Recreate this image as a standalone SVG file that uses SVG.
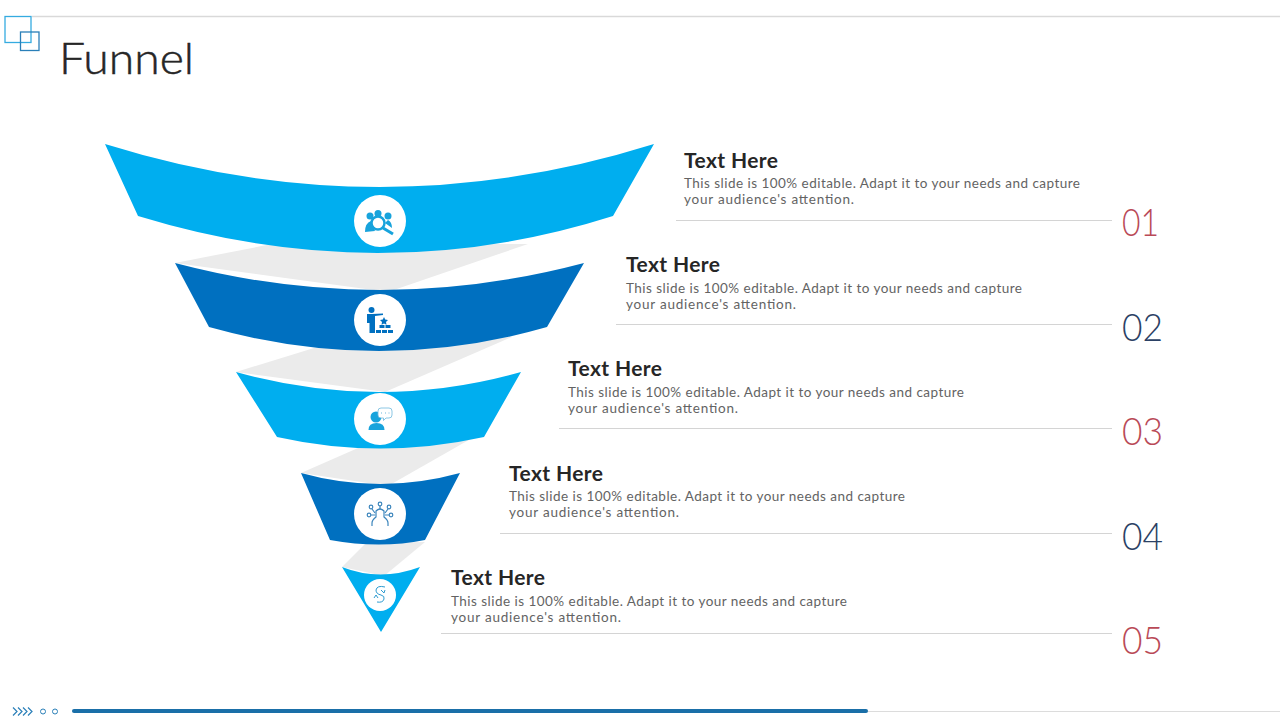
<svg xmlns="http://www.w3.org/2000/svg" width="1280" height="720" viewBox="0 0 1280 720">
<style>
.t{font-family:"Lato","Noto Sans",sans-serif}
.h{font-family:"Lato","Noto Sans",sans-serif;font-weight:700;font-size:21px;fill:#262626}
.b{font-family:"Lato","Noto Sans",sans-serif;font-size:13.5px;fill:#636363}
.n{font-family:"Lato","Noto Sans",sans-serif;font-weight:300;font-size:37px}
.r{fill:#b94a57}.v{fill:#2b4165}
.l{stroke:#d4d4d4;stroke-width:1.2;fill:none}
.g{fill:#ebebeb}.lb{fill:#00aeef}.db{fill:#0070c0}
.c{fill:#fff}.il{fill:#17a3dc}.id{fill:#0070c0}
.s{fill:none;stroke:#3d86bd;stroke-width:1.2}
</style>
<rect width="1280" height="720" fill="#fff"/>
<g id="header">
<line x1="32" y1="16.500" x2="1280" y2="16.500" stroke="#d9d9d9" stroke-width="1.600"/>
<rect x="5" y="16.500" width="26" height="26" fill="none" stroke="#35abe0" stroke-width="1.300"/>
<rect x="20.500" y="32" width="18.500" height="18.500" fill="none" stroke="#2a7fb8" stroke-width="1.300"/>
<text x="59" y="74" class="t" font-size="44" font-weight="300" fill="#262626" stroke="#262626" stroke-width=".5" textLength="135" lengthAdjust="spacingAndGlyphs">Funnel</text>
</g>
<g id="connectors">
<path class="g" d="M175 263L272 244L528 244L388 292Z"/>
<path class="g" d="M236 372L314 348L512 337L385 392Z"/>
<path class="g" d="M301 473L358 448L474 437L388 486Z"/>
<path class="g" d="M342 567L366 543L425 542L384 576Z"/>
<path class="l" d="M676 220.500H1112M616 324.500H1112M559 428.500H1112M500 533.500H1112M441 633.500H1112"/>
</g>
<g id="node-1">
<path class="lb" d="M105 144Q380 230 654 144L613 216Q380 290 138 216Z"/>
<circle class="c" cx="380" cy="221" r="26"/>
<g class="il"><circle cx="378" cy="213.500" r="3.500"/><circle cx="370" cy="216" r="3.500"/><circle cx="388" cy="216" r="3.500"/>
<path d="M365 232q0-9 6-11l4 10zM392 228q0-6-4-8l-3 3z"/></g>
<circle cx="378" cy="223" r="6.500" fill="#fff" stroke="#17a3dc" stroke-width="2.500"/>
<path d="M383 228L393 234" stroke="#17a3dc" stroke-width="3"/>
</g>
<g id="text-1"><text x="684" y="168" class="h" textLength="94">Text Here</text>
<text x="684" y="188" class="b" textLength="396">This slide is 100% editable. Adapt it to your needs and capture</text>
<text x="684" y="204" class="b" textLength="170">your audience's attention.</text>
<text x="1122" y="236" class="n r" textLength="37" lengthAdjust="spacingAndGlyphs">01</text></g>
<g id="node-2">
<path class="db" d="M175 263Q380 317 584 263L547 327Q380 375 209 327Z"/>
<circle class="c" cx="380" cy="320" r="26"/>
<g class="id"><circle cx="371.500" cy="310" r="3"/>
<path d="M367 314h5l11 -.5v1.500l-8 1v17h-5.500v-10h-2.500z"/>
<path d="M384 317l1.200 2.500 2.800.4-2 2 .5 2.800-2.500-1.300-2.500 1.300.5-2.800-2-2 2.800-.4z"/>
<rect x="379.500" y="325" width="5" height="3"/><rect x="385.500" y="325" width="5" height="3"/><rect x="376" y="330" width="5" height="3"/><rect x="382" y="330" width="5" height="3"/><rect x="388" y="330" width="5" height="3"/></g>
</g>
<g id="text-2"><text x="626" y="272" class="h" textLength="94">Text Here</text>
<text x="626" y="293" class="b" textLength="396">This slide is 100% editable. Adapt it to your needs and capture</text>
<text x="626" y="309" class="b" textLength="170">your audience's attention.</text>
<text x="1122" y="341" class="n v" textLength="41" lengthAdjust="spacingAndGlyphs">02</text></g>
<g id="node-3">
<path class="lb" d="M236 372Q380 412 521 372L484 437Q380 460 277 437Z"/>
<circle class="c" cx="380" cy="419" r="26"/>
<g class="il"><circle cx="376" cy="417" r="5.500"/><path d="M368.500 430q0-7 8-7t8 7z"/></g>
<path d="M381 408h8q3 0 3 3v4q0 3-3 3h-3l-2.500 2.500v-2.500h-2.500q-3 0-3-3v-4q0-3 3-3z" fill="#fff" stroke="#6fb9dd" stroke-width=".8"/>
<path d="M381 413h1M385 413h1M388.500 413h1" stroke="#6fb9dd" stroke-width="1"/>
</g>
<g id="text-3"><text x="568" y="376" class="h" textLength="94">Text Here</text>
<text x="568" y="397" class="b" textLength="396">This slide is 100% editable. Adapt it to your needs and capture</text>
<text x="568" y="413" class="b" textLength="170">your audience's attention.</text>
<text x="1122" y="445" class="n r" textLength="41" lengthAdjust="spacingAndGlyphs">03</text></g>
<g id="node-4">
<path class="db" d="M301 473Q380 495 460 473L425 540Q380 549 330 540Z"/>
<circle class="c" cx="380" cy="514" r="26"/>
<g class="s"><path d="M372 526v-3q0-3 4-6v-6q4-4 8 0v6q4 3 4 6v3"/><circle cx="380" cy="504" r="1.800"/><circle cx="371" cy="507" r="1.800"/><circle cx="389" cy="507" r="1.800"/><circle cx="369" cy="515" r="1.800"/><circle cx="391" cy="515" r="1.800"/><path d="M380 506v3M372 509l3 4M388 509l-3 4M371 515h4M389 515h-4"/></g>
</g>
<g id="text-4"><text x="509" y="481" class="h" textLength="94">Text Here</text>
<text x="509" y="501" class="b" textLength="396">This slide is 100% editable. Adapt it to your needs and capture</text>
<text x="509" y="517" class="b" textLength="170">your audience's attention.</text>
<text x="1122" y="550" class="n v" textLength="41" lengthAdjust="spacingAndGlyphs">04</text></g>
<g id="node-5">
<path class="lb" d="M342 567Q380 582 420 567L381 632Z"/>
<circle class="c" cx="380" cy="595" r="16"/>
<path d="M385 587q-8-2-9 3 0 4 5 5 4 1 3 4-1 4-7 3M374 598l2-3 2 3M381 590l3 3 1-3" fill="none" stroke="#2d9bd0" stroke-width="1"/>
</g>
<g id="text-5"><text x="451" y="585" class="h" textLength="94">Text Here</text>
<text x="451" y="606" class="b" textLength="396">This slide is 100% editable. Adapt it to your needs and capture</text>
<text x="451" y="622" class="b" textLength="170">your audience's attention.</text>
<text x="1122" y="654" class="n r" textLength="41" lengthAdjust="spacingAndGlyphs">05</text></g>
<g id="footer">
<line x1="72" y1="711.500" x2="1280" y2="711.500" stroke="#dcdcdc" stroke-width="1"/>
<line x1="74" y1="711" x2="866" y2="711" stroke="#1a6fa8" stroke-width="4" stroke-linecap="round"/>
<path d="M13 707.500l4 4-4 4M18 707.500l4 4-4 4M23 707.500l4 4-4 4M28 707.500l4 4-4 4" fill="none" stroke="#2a7fb8" stroke-width="1.200"/>
<circle cx="43" cy="711.500" r="2.500" fill="none" stroke="#2a7fb8"/>
<circle cx="55" cy="711.500" r="2.500" fill="none" stroke="#2a7fb8"/>
</g>
</svg>
